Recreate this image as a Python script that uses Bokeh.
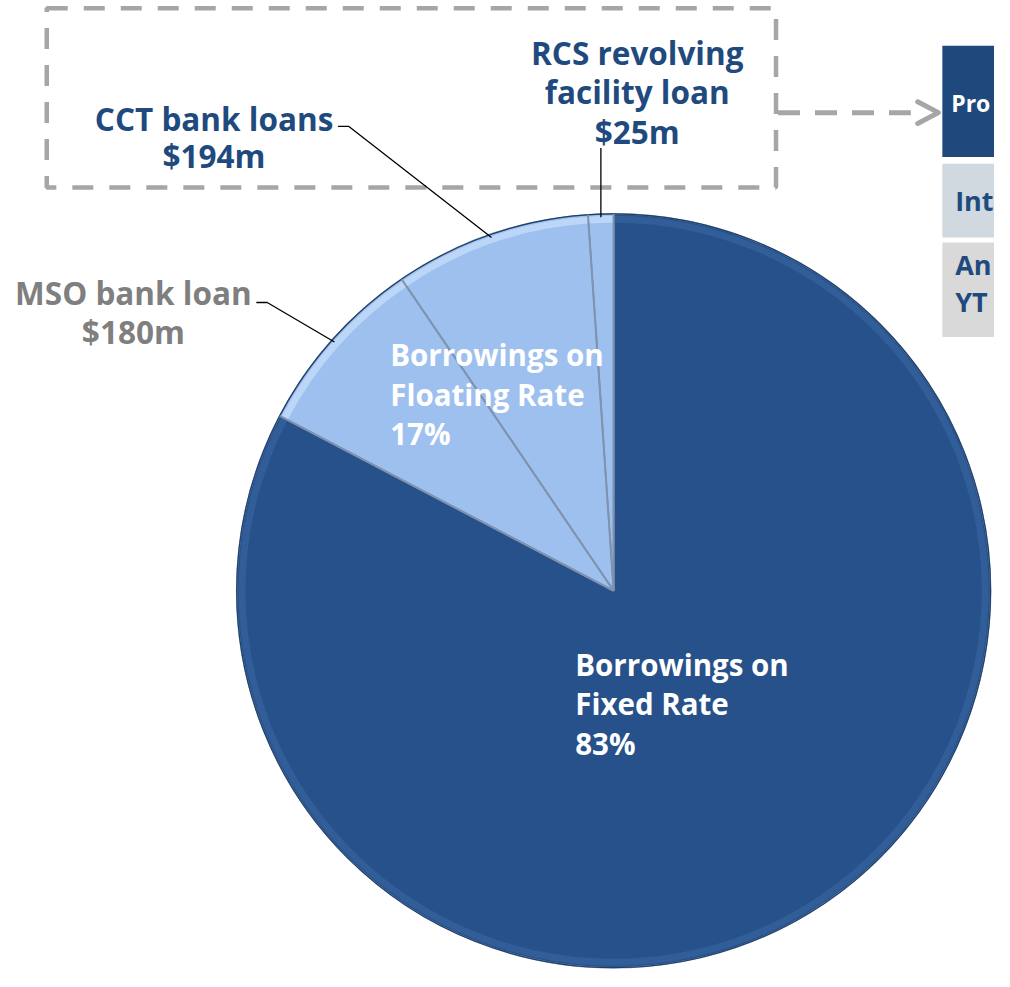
import numpy as np
from bokeh.plotting import figure
from bokeh.models import Range1d
from bokeh.core.properties import value
from bokeh.embed import file_html
from bokeh.resources import INLINE

# ---------------- data ----------------
segments = ["RCS revolving facility loan", "CCT bank loans", "MSO bank loan", "Borrowings on Fixed Rate"]
amounts_m = [25, 194, 180, 1905]          # $m (fixed-rate amount)
is_floating = [True, True, True, False]
seg_labels = [["RCS revolving", "facility loan", "$25m"],
              ["CCT bank loans", "$194m"],
              ["MSO bank loan", "$180m"]]
group_labels = [["Borrowings on", "Floating Rate", "17%"],
                ["Borrowings on", "Fixed Rate", "83%"]]
table_texts = ["Pro", "Int", "An", "YT"]

# ---------------- styles ----------------
DARK = "#27518A"
LIGHT = "#9DC0EF"
NAVY_TXT = "#1F4A7E"
GRAY_TXT = "#7F7F7F"
FONT = value("Open Sans")

H = 987  # reference height; data y = H - pixel y


def Y(py):
    return H - py


p = figure(width=994, height=971, x_range=Range1d(0, 1010), y_range=Range1d(0, 987),
           output_backend="svg", toolbar_location=None, min_border=0)
p.axis.visible = False
p.grid.visible = False
p.outline_line_color = None
p.background_fill_color = "white"

cx, cy, R = 623, Y(600), 383

vals = np.array(amounts_m, dtype=float)
frac = vals / vals.sum()
ends = np.pi / 2 + 2 * np.pi * np.cumsum(frac)
starts = np.concatenate([[np.pi / 2], ends[:-1]])
mids = (starts + ends) / 2
colors = [LIGHT if f else DARK for f in is_floating]
rim = ["#C3DBF8" if f else "#35609C" for f in is_floating]

# pie body
p.wedge(x=cx, y=cy, radius=R, start_angle=starts, end_angle=ends,
        fill_color=colors, line_color="#7F93AE", line_width=1.5)
# bevel rim
p.annular_wedge(x=cx, y=cy, inner_radius=R - 9, outer_radius=R - 2, start_angle=starts, end_angle=ends,
                fill_color=rim, fill_alpha=0.8, line_color=None)
p.circle(x=[cx], y=[cy], radius=R, fill_color=None, line_color="#1E3F6B", line_width=1.2)

# separators between slices
for a in starts:
    p.line([cx, cx + R * np.cos(a)], [cy, cy + R * np.sin(a)], line_color="#7F93AE", line_width=2)

# dashed callout box
p.quad(left=47, right=788, top=Y(8), bottom=Y(190), fill_alpha=0, line_color="#A6A6A6",
       line_width=4.5, line_dash="21 16")
# dashed arrow
p.line([790, 925], [Y(114), Y(114)], line_color="#A6A6A6", line_width=5, line_dash="22 15")
p.line([932, 953, 932], [Y(103), Y(114), Y(125)], line_color="#A6A6A6", line_width=5,
       line_cap="round", line_join="round")

# partial table on the right
p.quad(left=957, right=1012, top=Y(46), bottom=Y(159), fill_color="#1F497D", line_color=None)
p.quad(left=957, right=1012, top=Y(166), bottom=Y(241), fill_color="#D0D8E0", line_color=None)
p.quad(left=957, right=1012, top=Y(246), bottom=Y(342), fill_color="#D9D9D9", line_color=None)
p.text(x=[966], y=[Y(104)], text=[table_texts[0]], text_color="white", text_font=FONT,
       text_font_style="bold", text_font_size="23px", text_baseline="middle")
p.text(x=[970, 970, 970], y=[Y(203), Y(268), Y(306)], text=table_texts[1:], text_color=NAVY_TXT,
       text_font=FONT, text_font_style="bold", text_font_size="27px", text_baseline="middle")

# leader lines (from label to slice edge at mid-angle)
lr = R - 3
lead_starts = [[(612, Y(150))], [(343, Y(128)), (354, Y(128))], [(260, Y(307)), (271, Y(307))]]
for i in range(3):
    ex, ey = cx + lr * np.cos(mids[i]), cy + lr * np.sin(mids[i])
    pts = lead_starts[i] + [(ex, ey)]
    if i == 0:
        pts = [(ex, Y(150)), (ex, ey)]
    p.line([q[0] for q in pts], [q[1] for q in pts], line_color="black", line_width=1.3)

# segment labels
lab_pos = [(647, [53, 93, 133]), (217, [120, 158]), (135, [297, 336])]
lab_col = [NAVY_TXT, NAVY_TXT, GRAY_TXT]
for (x0, ys), lines, col in zip(lab_pos, seg_labels, lab_col):
    p.text(x=[x0] * len(lines), y=[Y(v) for v in ys], text=lines, text_color=col, text_font=FONT,
           text_font_style="bold", text_font_size="31.5px", text_align="center", text_baseline="middle")

# group labels inside pie
grp_pos = [(396, [360, 400, 440]), (584, [675, 715, 755])]
for (x0, ys), lines in zip(grp_pos, group_labels):
    p.text(x=[x0] * 3, y=[Y(v) for v in ys], text=lines, text_color="white", text_font=FONT,
           text_font_style="bold", text_font_size="29.5px", text_align="left", text_baseline="middle")

open("out.html", "w").write(file_html(p, INLINE))
